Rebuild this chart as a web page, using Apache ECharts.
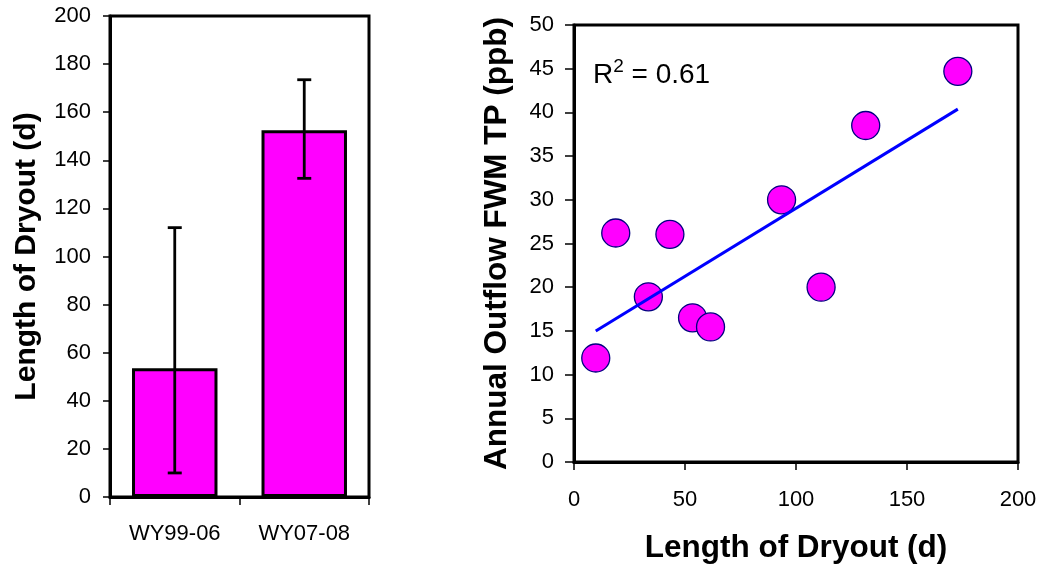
<!DOCTYPE html>
<html>
<head>
<meta charset="utf-8">
<script src="https://cdn.jsdelivr.net/npm/echarts@6/dist/echarts.min.js"></script>
<style>
  html, body { margin: 0; padding: 0; background: #fff; }
  #chart { width: 1041px; height: 568px; }
</style>
</head>
<body>
<div id="chart"></div>
<script>
// Dryout length by period (bar = mean, whiskers = low/high)
const periods = ['WY99-06', 'WY07-08'];
const dryoutMean = [53.5, 152.5];
const dryoutLow = [10, 132.5];
const dryoutHigh = [112, 173.5];

// Annual points: dryout length (d) vs outflow FWM TP (ppb)
const dryoutDays = [9.8, 18.8, 33.5, 43.2, 53.4, 61.5, 93.5, 111.3, 131.4, 172.9];
const outflowTP = [11.9, 26.2, 18.9, 26.05, 16.5, 15.45, 30.0, 20.0, 38.5, 44.7];

// Axis ranges
const barAxis = { min: 0, max: 200, interval: 20 };
const scatterX = { min: 0, max: 200, interval: 50 };
const scatterY = { min: 0, max: 50, interval: 5 };

const FONT = '"Liberation Sans", Arial, Helvetica, sans-serif';

// Least-squares trend line and R^2
function linearFit(xs, ys) {
  const n = xs.length;
  const mx = xs.reduce((a, b) => a + b, 0) / n;
  const my = ys.reduce((a, b) => a + b, 0) / n;
  let sxy = 0, sxx = 0, syy = 0;
  for (let i = 0; i < n; i++) {
    const dx = xs[i] - mx, dy = ys[i] - my;
    sxy += dx * dy; sxx += dx * dx; syy += dy * dy;
  }
  const slope = sxy / sxx;
  return { slope, intercept: my - slope * mx, r2: (sxy * sxy) / (sxx * syy) };
}
const fit = linearFit(dryoutDays, outflowTP);
const xLo = Math.min(...dryoutDays), xHi = Math.max(...dryoutDays);
const trend = [[xLo, fit.intercept + fit.slope * xLo], [xHi, fit.intercept + fit.slope * xHi]];

const points = dryoutDays.map((d, i) => [d, outflowTP[i]]);
const whiskers = periods.map((p, i) => [i, dryoutLow[i], dryoutHigh[i]]);

function renderWhisker(params, api) {
  const i = api.value(0);
  const lo = api.coord([i, api.value(1)]);
  const hi = api.coord([i, api.value(2)]);
  const half = 7;
  const st = { stroke: '#000', lineWidth: 2.8 };
  return {
    type: 'group',
    children: [
      { type: 'line', shape: { x1: lo[0], y1: lo[1], x2: hi[0], y2: hi[1] }, style: st },
      { type: 'line', shape: { x1: lo[0] - half, y1: lo[1], x2: lo[0] + half, y2: lo[1] }, style: st },
      { type: 'line', shape: { x1: hi[0] - half, y1: hi[1], x2: hi[0] + half, y2: hi[1] }, style: st }
    ]
  };
}

const axisLineStyle = { show: true, lineStyle: { color: '#000', width: 3 } };
const labelStyle = { color: '#000', fontSize: 22, fontFamily: FONT };
const nameStyle = { color: '#000', fontSize: 31.5, fontWeight: 'bold', fontFamily: FONT };

const chart = echarts.init(document.getElementById('chart'), null, { renderer: 'canvas' });
chart.setOption({
  backgroundColor: '#fff',
  animation: false,
  title: {
    text: '{r|R}{s|2}{r| = ' + fit.r2.toFixed(2) + '}',
    left: 593,
    top: 57,
    padding: 0,
    textStyle: {
      fontWeight: 'normal',
      rich: {
        r: { fontSize: 28, fontWeight: 'normal', fontFamily: FONT, color: '#000', lineHeight: 36 },
        s: { fontSize: 19, fontWeight: 'normal', fontFamily: FONT, color: '#000', verticalAlign: 'top' }
      }
    }
  },
  grid: [
    { left: 110, top: 16, width: 259, height: 481, show: true, borderColor: '#000', borderWidth: 3, containLabel: false, outerBoundsMode: 'none' },
    { left: 574, top: 25, width: 444, height: 437, show: true, borderColor: '#000', borderWidth: 3, containLabel: false, outerBoundsMode: 'none' }
  ],
  xAxis: [
    {
      gridIndex: 0, type: 'category', data: periods,
      axisLine: axisLineStyle,
      axisTick: { show: true, length: 8, lineStyle: { color: '#000', width: 1.5 } },
      axisLabel: Object.assign({ margin: 26 }, labelStyle),
      splitLine: { show: false }
    },
    {
      gridIndex: 1, type: 'value', min: scatterX.min, max: scatterX.max, interval: scatterX.interval,
      axisLine: axisLineStyle,
      axisTick: { show: true, length: 8, lineStyle: { color: '#000', width: 1.5 } },
      axisLabel: Object.assign({ margin: 27 }, labelStyle),
      splitLine: { show: false },
      name: 'Length of Dryout (d)', nameLocation: 'middle', nameGap: 70,
      nameTextStyle: nameStyle
    }
  ],
  yAxis: [
    {
      gridIndex: 0, type: 'value', min: barAxis.min, max: barAxis.max, interval: barAxis.interval,
      axisLine: axisLineStyle,
      axisTick: { show: true, length: 7, lineStyle: { color: '#000', width: 1.5 } },
      axisLabel: Object.assign({ margin: 19 }, labelStyle),
      splitLine: { show: false },
      name: 'Length of Dryout (d)', nameLocation: 'middle', nameGap: 68,
      nameTextStyle: Object.assign({}, nameStyle, { fontSize: 30 })
    },
    {
      gridIndex: 1, type: 'value', min: scatterY.min, max: scatterY.max, interval: scatterY.interval,
      axisLine: axisLineStyle,
      axisTick: { show: true, length: 9, lineStyle: { color: '#000', width: 1.5 } },
      axisLabel: Object.assign({ margin: 20 }, labelStyle),
      splitLine: { show: false },
      name: 'Annual Outflow FWM TP (ppb)', nameLocation: 'middle', nameGap: 61,
      nameTextStyle: nameStyle
    }
  ],
  series: [
    {
      type: 'bar', xAxisIndex: 0, yAxisIndex: 0, data: dryoutMean, barWidth: '66%',
      itemStyle: { color: '#FF00FF', borderColor: '#000', borderWidth: 3 }
    },
    {
      type: 'custom', xAxisIndex: 0, yAxisIndex: 0, data: whiskers,
      encode: { x: 0, y: [1, 2] }, renderItem: renderWhisker, z: 5
    },
    {
      type: 'scatter', xAxisIndex: 1, yAxisIndex: 1, data: points, symbolSize: 28,
      itemStyle: { color: '#FF00FF', borderColor: '#000080', borderWidth: 1.3, opacity: 1 }
    },
    {
      type: 'line', xAxisIndex: 1, yAxisIndex: 1, data: trend, symbol: 'none', z: 4,
      lineStyle: { color: '#0000FF', width: 3 }
    }
  ]
});
</script>
</body>
</html>
